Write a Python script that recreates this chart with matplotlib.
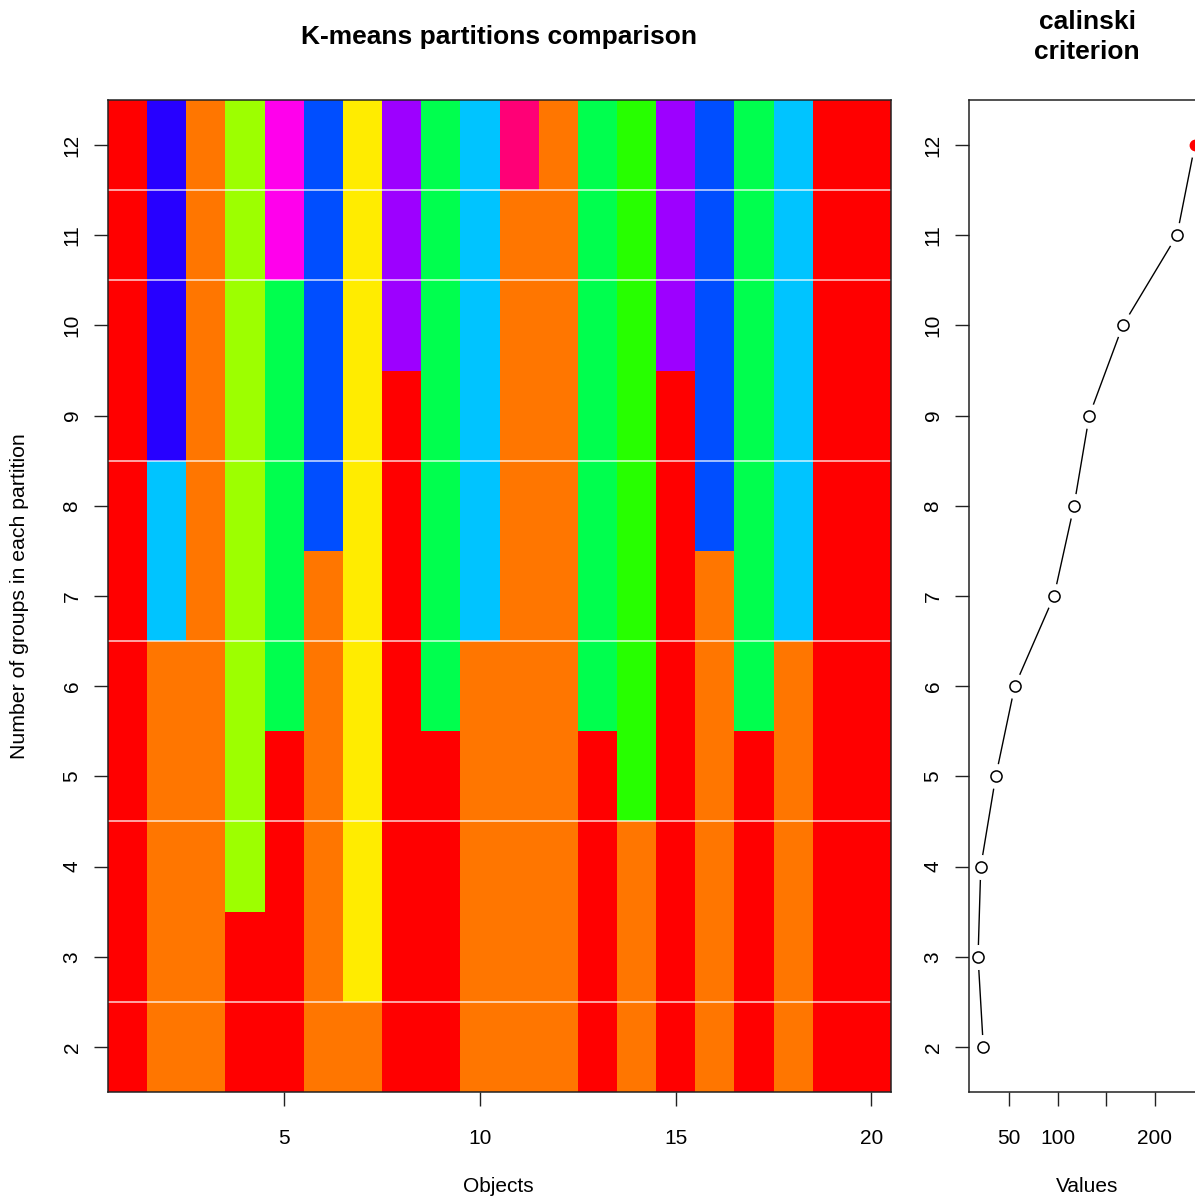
import matplotlib
matplotlib.use("Agg")
import matplotlib.pyplot as plt
from matplotlib.colors import ListedColormap, BoundaryNorm
import numpy as np

plt.rcParams['font.family'] = ['Liberation Sans', 'DejaVu Sans']

# number of groups in each partition
n_groups = [2, 3, 4, 5, 6, 7, 8, 9, 10, 11, 12]
objects = list(range(1, 21))

# group id of each object (columns) for k = 2..12
obj01 = [0, 0, 0, 0, 0, 0, 0, 0, 0, 0, 0]
obj02 = [1, 1, 1, 1, 1, 7, 7, 9, 9, 9, 9]
obj03 = [1, 1, 1, 1, 1, 1, 1, 1, 1, 1, 1]
obj04 = [0, 0, 3, 3, 3, 3, 3, 3, 3, 3, 3]
obj05 = [0, 0, 0, 0, 5, 5, 5, 5, 5, 11, 11]
obj06 = [1, 1, 1, 1, 1, 1, 8, 8, 8, 8, 8]
obj07 = [1, 2, 2, 2, 2, 2, 2, 2, 2, 2, 2]
obj08 = [0, 0, 0, 0, 0, 0, 0, 0, 10, 10, 10]
obj09 = [0, 0, 0, 0, 5, 5, 5, 5, 5, 5, 5]
obj10 = [1, 1, 1, 1, 1, 7, 7, 7, 7, 7, 7]
obj11 = [1, 1, 1, 1, 1, 1, 1, 1, 1, 1, 12]
obj12 = [1, 1, 1, 1, 1, 1, 1, 1, 1, 1, 1]
obj13 = [0, 0, 0, 0, 5, 5, 5, 5, 5, 5, 5]
obj14 = [1, 1, 1, 4, 4, 4, 4, 4, 4, 4, 4]
obj15 = [0, 0, 0, 0, 0, 0, 0, 0, 10, 10, 10]
obj16 = [1, 1, 1, 1, 1, 1, 8, 8, 8, 8, 8]
obj17 = [0, 0, 0, 0, 5, 5, 5, 5, 5, 5, 5]
obj18 = [1, 1, 1, 1, 1, 7, 7, 7, 7, 7, 7]
obj19 = [0, 0, 0, 0, 0, 0, 0, 0, 0, 0, 0]
obj20 = [0, 0, 0, 0, 0, 0, 0, 0, 0, 0, 0]

# calinski criterion for each partition
calinski = [23.6, 18.2, 21.0, 36.4, 55.9, 96.3, 116.8, 132.5, 166.9, 222.6, 241.0]

x_ticks = [5, 10, 15, 20]
val_ticks = [50, 100, 150, 200]
val_ticklabels = ['50', '100', '', '200']

palette = ['#FF0000', '#FF7600', '#FFEC00', '#9DFF00', '#27FF00', '#00FF4E',
           '#00FFC4', '#00C4FF', '#004EFF', '#2700FF', '#9D00FF', '#FF00EC',
           '#FF0076']

groups = np.array([obj01, obj02, obj03, obj04, obj05, obj06, obj07, obj08, obj09, obj10,
                   obj11, obj12, obj13, obj14, obj15, obj16, obj17, obj18, obj19, obj20]).T

W, H = 1195, 1198
fig = plt.figure(figsize=(W / 100, H / 100), dpi=100)

def fx(px):
    return px / W

def fy(py):
    return 1 - py / H

top, bot = 100, 1092
ax = fig.add_axes([fx(108), fy(bot), fx(891 - 108), (bot - top) / H])
ax2 = fig.add_axes([fx(969), fy(bot), fx(1204 - 969), (bot - top) / H])

cmap = ListedColormap(palette)
norm = BoundaryNorm(np.arange(-0.5, len(palette) + 0.5), cmap.N)
xe = np.arange(0.5, len(objects) + 1, 1)
ye = np.arange(1.5, n_groups[-1] + 1, 1)
ax.pcolormesh(xe, ye, groups, cmap=cmap, norm=norm)
for yl in [2.5, 4.5, 6.5, 8.5, 10.5, 11.5]:
    ax.axhline(yl, color='white', lw=1.2, alpha=0.75)
ax.set_xlim(0.5, 20.5)
ax.set_ylim(1.5, 12.5)
ax.set_xticks(x_ticks)
ax.set_yticks(n_groups)

# calinski panel, R type "b"
ax2.plot(calinski, n_groups, color='black', lw=1.0, zorder=1)
ax2.plot(calinski[:-1], n_groups[:-1], 'o', ms=18, mfc='white', mec='none', zorder=2)
ax2.plot(calinski[:-1], n_groups[:-1], 'o', ms=8, mfc='white', mec='black', mew=1.1, zorder=3)
ax2.plot(calinski[-1:], n_groups[-1:], 'o', ms=18, mfc='white', mec='none', zorder=2)
ax2.plot(calinski[-1:], n_groups[-1:], 'o', ms=7.5, color='red', zorder=3)
ax2.set_xlim(8.9, 250.4)
ax2.set_ylim(1.5, 12.5)
ax2.set_xticks(val_ticks)
ax2.set_xticklabels(val_ticklabels)
ax2.set_yticks(n_groups)

for a in (ax, ax2):
    for s in a.spines.values():
        s.set_linewidth(1.1)
        s.set_color('#222222')
    a.tick_params(axis='both', direction='out', length=10, width=1.0, color='#222222',
                  labelsize=15)
    a.tick_params(axis='x', pad=17)
    a.tick_params(axis='y', pad=9, labelrotation=90)
    for lab in a.get_yticklabels():
        lab.set_va('center')

fig.text(fx(499.5), fy(37), 'K-means partitions comparison', ha='center', va='center',
         fontsize=19, fontweight='bold')
fig.text(fx(1087), fy(37), 'calinski\ncriterion', ha='center', va='center',
         fontsize=19, fontweight='bold', linespacing=1.3)
fig.text(fx(498), fy(1187), 'Objects', ha='center', va='center', fontsize=15)
fig.text(fx(1087), fy(1187), 'Values', ha='center', va='center', fontsize=15)
fig.text(fx(20), fy(596), 'Number of groups in each partition', ha='center', va='center',
         rotation=90, fontsize=15.3)

fig.savefig('out.png', dpi=100)
